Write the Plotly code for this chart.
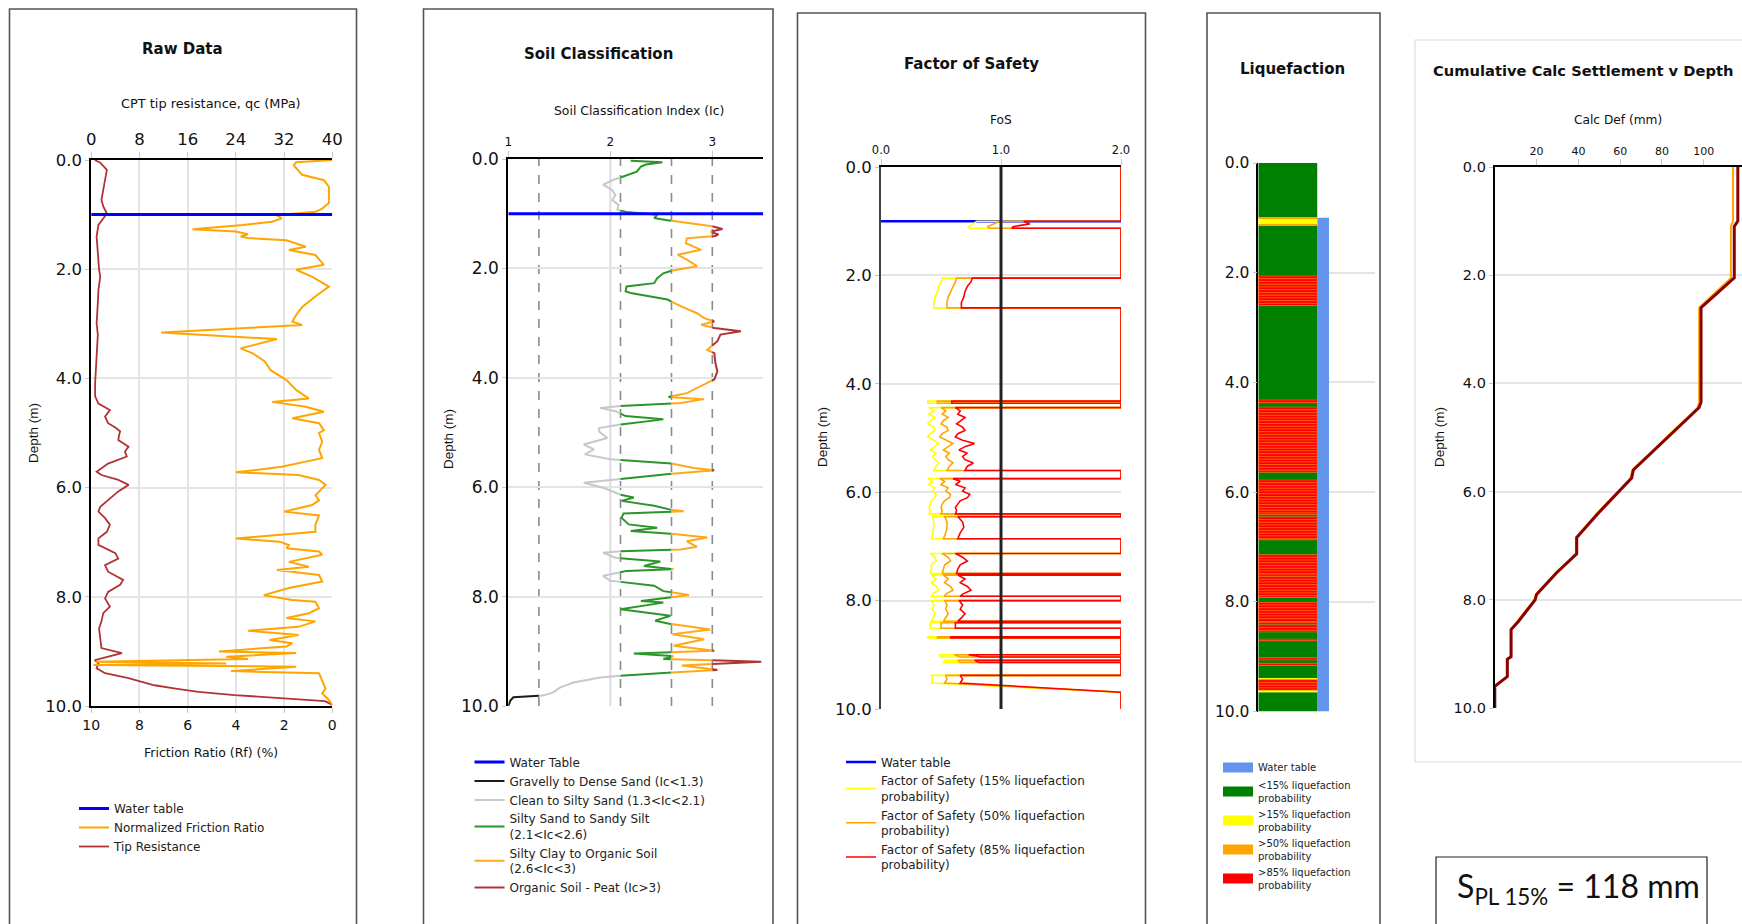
import numpy as np
import plotly.graph_objects as go

W, H = 1742, 924


def px(x):
    return x / W


def py(y):
    return 1 - y / H


WATER_TABLE = 1.0
DEPTH_TICKS = [0, 2, 4, 6, 8, 10]

# ---------------- Raw CPT data ----------------
QC_DEPTH = [0.0, 0.05, 0.18, 0.3, 0.43, 0.6, 0.73, 0.85, 0.98, 1.07, 1.19, 1.4, 1.6, 1.83, 2.0, 2.14,
            2.38, 2.62, 2.8, 2.99, 3.2, 3.48, 3.79, 4.09, 4.33, 4.46, 4.58, 4.7, 4.82, 4.9, 4.97, 5.05,
            5.13, 5.25, 5.34, 5.43, 5.56, 5.71, 5.77, 5.86, 5.95, 6.07, 6.23, 6.35, 6.44, 6.56, 6.68,
            6.81, 6.93, 7.05, 7.2, 7.3, 7.42, 7.54, 7.69, 7.78, 7.91, 8.03, 8.18, 8.3, 8.45, 8.58, 8.76,
            8.94, 9.03, 9.1, 9.16, 9.22, 9.31, 9.4, 9.49, 9.55, 9.62, 9.68, 9.74, 9.8, 9.86, 9.91, 9.98]
QC = [0.6, 1.5, 2.6, 2.4, 2.3, 1.9, 1.7, 2.0, 2.6, 2.0, 1.2, 0.9, 1.0, 1.1, 1.3, 1.5,
      1.2, 1.1, 1.0, 0.9, 1.1, 1.0, 0.8, 0.65, 0.65, 1.2, 3.1, 2.3, 2.8, 4.0, 4.8, 4.6,
      4.5, 6.2, 5.6, 5.9, 2.8, 0.9, 1.7, 4.5, 6.2, 4.5, 2.8, 1.5, 1.2, 2.3, 3.1,
      2.6, 1.2, 1.2, 4.0, 4.5, 2.3, 2.8, 5.3, 4.8, 2.8, 2.3, 3.1, 2.0, 1.7, 1.3, 1.5,
      1.7, 5.1, 2.8, 0.6, 1.2, 0.9, 2.3, 6.2, 8.1, 10.5, 14.0, 17.8, 23.8, 33.0, 38.8, 40.0]

RF_DEPTH = [0.0, 0.04, 0.1, 0.27, 0.37, 0.49, 0.79, 0.89, 0.95, 1.01, 1.07, 1.13, 1.19, 1.27, 1.31,
            1.36, 1.4, 1.43, 1.47, 1.59, 1.65, 1.74, 1.92, 2.01, 2.14, 2.32, 2.5, 2.69, 2.84, 2.96,
            3.02, 3.16, 3.28, 3.45, 3.54, 3.69, 3.85, 4.03, 4.21, 4.37, 4.43, 4.52, 4.61, 4.73, 4.82,
            4.95, 5.0, 5.16, 5.31, 5.46, 5.62, 5.72, 5.77, 5.86, 5.95, 6.14, 6.23, 6.32, 6.44, 6.51,
            6.68, 6.81, 6.93, 6.99, 7.05, 7.11, 7.17, 7.23, 7.36, 7.45, 7.51, 7.6, 7.72, 7.84, 7.97,
            8.06, 8.09, 8.21, 8.3, 8.39, 8.45, 8.55, 8.62, 8.7, 8.79, 8.85, 8.91, 9.0, 9.03, 9.1,
            9.14, 9.19, 9.22, 9.25, 9.28, 9.36, 9.4, 9.55, 9.68, 9.77, 9.89, 9.98]
RF = [0.0, 1.5, 1.6, 1.25, 0.35, 0.14, 0.14, 0.42, 0.7, 2.3, 2.1, 2.5, 3.7, 5.8, 4.0,
      3.5, 3.8, 3.5, 1.9, 1.1, 1.8, 0.7, 0.35, 1.5, 0.83, 0.14, 0.7, 1.25, 1.5, 1.66,
      1.25, 7.1, 2.3, 3.8, 3.3, 2.8, 2.56, 1.9, 1.5, 0.97, 2.5, 1.1, 0.35, 1.66, 0.55,
      0.35, 0.55, 0.42, 0.55, 0.42, 2.1, 4.0, 1.4, 0.55, 0.28, 0.7, 0.55, 0.83, 2.0, 0.55,
      0.7, 0.7, 4.0, 2.2, 1.8, 1.9, 0.55, 0.42, 1.8, 0.97, 2.3, 0.55, 0.42, 1.8, 2.84,
      1.66, 0.7, 0.55, 0.97, 1.9, 0.7, 1.4, 3.5, 1.4, 2.6, 1.66, 1.9, 4.7, 1.5, 4.4,
      3.5, 9.8, 4.4, 9.9, 1.5, 4.2, 0.55, 0.42, 0.28, 0.42, 0.14, 0.0]

# ---------------- Soil classification index ----------------
IC_DEPTH = [0.03, 0.06, 0.1, 0.14, 0.23, 0.32, 0.38, 0.47, 0.57, 0.66, 0.75, 0.84, 0.93, 0.97, 1.02,
            1.08, 1.12, 1.17, 1.22, 1.28, 1.33, 1.38, 1.41, 1.45, 1.54, 1.66, 1.75, 1.84, 1.96, 2.03,
            2.09, 2.18, 2.27, 2.33, 2.42, 2.45, 2.51, 2.57, 2.69, 2.82, 2.91, 2.97, 3.03, 3.09, 3.15,
            3.21, 3.33, 3.49, 3.55, 3.73, 3.88, 4.03, 4.15, 4.28, 4.35, 4.39, 4.46, 4.51, 4.55, 4.61,
            4.7, 4.76, 4.84, 4.92, 4.98, 5.1, 5.22, 5.31, 5.4, 5.49, 5.55, 5.65, 5.69, 5.75, 5.83,
            5.92, 6.01, 6.13, 6.19, 6.25, 6.34, 6.41, 6.44, 6.48, 6.56, 6.68, 6.74, 6.8, 6.85, 6.92,
            6.99, 7.09, 7.14, 7.17, 7.2, 7.29, 7.36, 7.44, 7.5, 7.53, 7.62, 7.71, 7.8, 7.9, 7.97,
            8.02, 8.08, 8.11, 8.23, 8.35, 8.44, 8.5, 8.6, 8.69, 8.78, 8.9, 8.99, 9.04, 9.09, 9.14,
            9.19, 9.26, 9.34, 9.42, 9.48, 9.57, 9.66, 9.75, 9.81, 9.84, 9.9, 10.0]
IC = [2.2, 2.51, 2.35, 2.3, 2.26, 2.13, 2.03, 1.93, 2.02, 2.05, 2.02, 2.08, 2.07, 2.16, 2.46,
      2.43, 2.56, 2.75, 2.98, 3.1, 2.98, 3.06, 3.03, 2.75, 2.74, 2.89, 2.66, 2.75, 2.85, 2.62,
      2.52, 2.46, 2.43, 2.16, 2.15, 2.2, 2.39, 2.56, 2.69, 2.85, 2.92, 3.02, 2.89, 3.02, 3.28,
      3.08, 3.05, 2.95, 3.02, 3.03, 3.05, 3.02, 2.89, 2.75, 2.57, 2.92, 2.69, 2.13, 1.9, 2.05,
      2.15, 2.52, 2.15, 1.89, 1.89, 1.97, 1.74, 1.84, 1.75, 2.0, 2.56, 2.82, 3.02, 2.62, 2.2,
      1.74, 1.93, 2.08, 2.23, 2.11, 2.43, 2.59, 2.72, 2.13, 2.11, 2.18, 2.46, 2.2, 2.59, 2.95,
      2.75, 2.85, 2.69, 2.1, 1.93, 2.05, 2.49, 2.33, 2.62, 2.16, 1.93, 2.0, 2.43, 2.52, 2.77,
      2.56, 2.3, 2.52, 2.1, 2.59, 2.44, 2.59, 2.98, 2.61, 2.92, 2.62, 3.02, 2.23, 2.62, 2.52,
      3.48, 2.7, 3.05, 2.26, 1.9, 1.64, 1.51, 1.44, 1.34, 1.05, 1.02, 1.0]
IC_BOUNDS = [1.3, 2.1, 2.6, 3.0]
SOIL_NAMES = ["Gravelly to Dense Sand (Ic<1.3)", "Clean to Silty Sand (1.3<Ic<2.1)",
              "Silty Sand to Sandy Silt<br>(2.1<Ic<2.6)", "Silty Clay to Organic Soil<br>(2.6<Ic<3)",
              "Organic Soil - Peat (Ic>3)"]
SOIL_COLORS = ["#1a1a1a", "#c8c8c8", "#2a962a", "#ffa91a", "#b03434"]

# ---------------- Factor of safety ----------------
FOS_DEPTH = [0.00, 1.00,
             1.00, 1.05, 1.10, 1.13, 1.13, 2.05,
             2.05, 2.12, 2.20, 2.30, 2.40, 2.50, 2.60, 2.60, 4.32,
             4.32, 4.36, 4.36, 4.44,
             4.44, 4.50, 4.56, 4.62, 4.68, 4.74, 4.80, 4.86, 4.92, 4.98, 5.04, 5.10, 5.16, 5.22, 5.28,
             5.34, 5.40, 5.46, 5.52, 5.60, 5.60, 5.75,
             5.75, 5.80, 5.86, 5.92, 5.98, 6.04, 6.10, 6.16, 6.22, 6.28, 6.34, 6.40, 6.40, 6.45,
             6.45, 6.55, 6.65, 6.75, 6.86, 6.86, 7.13,
             7.13, 7.20, 7.27, 7.34, 7.42, 7.50, 7.50, 7.53,
             7.53, 7.60, 7.67, 7.74, 7.81, 7.88, 7.92, 7.92, 8.00,
             8.00, 8.08, 8.16, 8.24, 8.32, 8.38, 8.38, 8.41,
             8.41, 8.51, 8.51, 8.67, 8.67, 8.69, 8.69, 9.00,
             9.00, 9.04, 9.04, 9.10, 9.10, 9.14, 9.14, 9.38,
             9.38, 9.45, 9.52, 9.69, 10.00]
FOS_15 = [2.0, 2.0,
          0.80, 0.77, 0.73, 0.74, 2.0, 2.0,
          0.51, 0.50, 0.48, 0.47, 0.45, 0.44, 0.44, 2.0, 2.0,
          0.39, 0.39, 2.0, 2.0,
          0.40, 0.44, 0.40, 0.45, 0.41, 0.39, 0.44, 0.45, 0.41, 0.39, 0.44, 0.48, 0.45, 0.41, 0.46,
          0.43, 0.45, 0.48, 0.46, 0.44, 2.0, 2.0,
          0.39, 0.43, 0.40, 0.45, 0.43, 0.46, 0.45, 0.42, 0.41, 0.40, 0.41, 0.40, 2.0, 2.0,
          0.43, 0.44, 0.44, 0.43, 0.42, 2.0, 2.0,
          0.41, 0.45, 0.46, 0.42, 0.42, 0.41, 2.0, 2.0,
          0.42, 0.46, 0.42, 0.46, 0.48, 0.43, 0.42, 2.0, 2.0,
          0.42, 0.44, 0.43, 0.45, 0.43, 0.42, 2.0, 2.0,
          0.41, 0.41, 2.0, 2.0, 0.39, 0.39, 2.0, 2.0,
          0.49, 0.50, 2.0, 2.0, 0.53, 0.52, 2.0, 2.0,
          0.42, 0.43, 0.42, 2.0, 2.0]
FOS_50 = [2.0, 2.0,
          0.99, 0.94, 0.89, 0.90, 2.0, 2.0,
          0.63, 0.62, 0.60, 0.58, 0.56, 0.55, 0.55, 2.0, 2.0,
          0.47, 0.47, 2.0, 2.0,
          0.50, 0.54, 0.51, 0.56, 0.52, 0.50, 0.55, 0.56, 0.51, 0.49, 0.55, 0.60, 0.56, 0.52, 0.57,
          0.54, 0.56, 0.60, 0.57, 0.55, 2.0, 2.0,
          0.49, 0.53, 0.50, 0.56, 0.54, 0.58, 0.57, 0.53, 0.51, 0.50, 0.51, 0.50, 2.0, 2.0,
          0.53, 0.55, 0.55, 0.54, 0.52, 2.0, 2.0,
          0.51, 0.56, 0.58, 0.53, 0.52, 0.51, 2.0, 2.0,
          0.52, 0.56, 0.53, 0.58, 0.60, 0.54, 0.53, 2.0, 2.0,
          0.53, 0.55, 0.54, 0.56, 0.54, 0.52, 2.0, 2.0,
          0.50, 0.50, 2.0, 2.0, 0.47, 0.47, 2.0, 2.0,
          0.61, 0.66, 2.0, 2.0, 0.64, 0.66, 2.0, 2.0,
          0.54, 0.55, 0.53, 2.0, 2.0]
FOS_85 = [2.0, 2.0,
          1.19, 1.24, 1.10, 1.09, 2.0, 2.0,
          0.76, 0.75, 0.72, 0.70, 0.69, 0.67, 0.67, 2.0, 2.0,
          0.59, 0.59, 2.0, 2.0,
          0.62, 0.66, 0.64, 0.70, 0.66, 0.63, 0.68, 0.70, 0.64, 0.62, 0.68, 0.78, 0.70, 0.65, 0.72,
          0.68, 0.70, 0.77, 0.72, 0.70, 2.0, 2.0,
          0.60, 0.66, 0.62, 0.70, 0.68, 0.74, 0.72, 0.66, 0.64, 0.62, 0.63, 0.62, 2.0, 2.0,
          0.64, 0.68, 0.69, 0.66, 0.64, 2.0, 2.0,
          0.62, 0.68, 0.72, 0.66, 0.64, 0.63, 2.0, 2.0,
          0.64, 0.70, 0.66, 0.72, 0.75, 0.68, 0.66, 2.0, 2.0,
          0.65, 0.68, 0.66, 0.70, 0.67, 0.64, 2.0, 2.0,
          0.62, 0.62, 2.0, 2.0, 0.58, 0.58, 2.0, 2.0,
          0.73, 0.84, 2.0, 2.0, 0.78, 0.82, 2.0, 2.0,
          0.66, 0.68, 0.66, 2.0, 2.0]

# ---------------- Liquefaction column (top, bottom, class) ----------------
LIQ_TOP = [0.00, 0.99, 1.02, 1.12, 1.15, 2.06, 2.60, 4.32, 4.37, 4.45, 5.64, 5.78, 6.41, 6.45, 6.87,
           7.14, 7.51, 7.54, 7.92, 8.01, 8.38, 8.42, 8.55, 8.68, 8.71, 9.02, 9.06, 9.12, 9.16, 9.40,
           9.42, 9.61, 9.65]
LIQ_BOTTOM = [0.99, 1.02, 1.12, 1.15, 2.06, 2.60, 4.32, 4.37, 4.45, 5.64, 5.78, 6.41, 6.45, 6.87, 7.14,
              7.51, 7.54, 7.92, 8.01, 8.38, 8.42, 8.55, 8.68, 8.71, 9.02, 9.06, 9.12, 9.16, 9.40, 9.42,
              9.61, 9.65, 10.00]
LIQ_CLASS = [0, 2, 1, 2, 0, 3, 0, 3, 0, 3, 0, 3, 0, 3, 0,
             3, 0, 3, 0, 3, 0, 3, 0, 3, 0, 3, 0, 3, 0, 1,
             3, 1, 0]
LIQ_NAMES = ["<15% liquefaction<br>probability", ">15% liquefaction<br>probability",
             ">50% liquefaction<br>probability", ">85% liquefaction<br>probability"]
LIQ_COLORS = ["#008000", "#ffff00", "#ffa500", "#ff0000"]

# ---------------- Cumulative settlement ----------------
SETTLE_DEPTH = [0.0, 1.0, 1.1, 2.05, 2.6, 4.35, 4.45, 5.6, 5.75, 6.4, 6.85, 7.15, 7.5, 7.9, 8.0,
                8.4, 8.55, 9.05, 9.1, 9.42, 9.6, 10.0]
SETTLE_A = [114.0, 114.0, 113.0, 113.0, 97.8, 97.8, 97.0, 65.8, 65.0, 49.0, 38.8, 38.8, 29.2, 19.6,
            19.0, 11.0, 7.6, 7.6, 5.8, 5.8, 0.0, 0.0]
SETTLE_B = [116.3, 116.3, 114.6, 114.6, 98.7, 98.7, 97.7, 66.3, 65.5, 49.5, 39.2, 39.2, 29.6, 20.0,
            19.3, 11.3, 7.8, 7.8, 6.0, 6.0, 0.0, 0.0]
S_PL15 = 118


def split_by_class(depth, values, bounds):
    """Cut a profile at the class boundaries, returning one gapped path per class."""
    n = len(bounds) + 1
    paths = [([], []) for _ in range(n)]
    last = [None] * n
    for i in range(len(depth) - 1):
        d0, d1, v0, v1 = depth[i], depth[i + 1], values[i], values[i + 1]
        ts = [0.0, 1.0]
        for b in bounds:
            if (v0 - b) * (v1 - b) < 0:
                ts.append((b - v0) / (v1 - v0))
        ts.sort()
        for a, b in zip(ts[:-1], ts[1:]):
            pa = (d0 + a * (d1 - d0), v0 + a * (v1 - v0))
            pb = (d0 + b * (d1 - d0), v0 + b * (v1 - v0))
            c = int(np.searchsorted(bounds, (pa[1] + pb[1]) / 2))
            xs, ys = paths[c]
            if last[c] != pa:
                if xs:
                    xs.append(None)
                    ys.append(None)
                xs.append(pa[1])
                ys.append(pa[0])
            xs.append(pb[1])
            ys.append(pb[0])
            last[c] = pb
    return paths


FONT = "DejaVu Sans, Verdana, sans-serif"
GRID = "#e4e4e4"
TICKC = "#c8c8c8"

fig = go.Figure()

# Panel 1: raw data
fig.add_trace(go.Scatter(x=QC, y=QC_DEPTH, xaxis="x", yaxis="y", mode="lines",
                         line=dict(color="#b03434", width=1.8), name="Tip Resistance",
                         legend="legend", legendrank=3))
fig.add_trace(go.Scatter(x=RF, y=RF_DEPTH, xaxis="x2", yaxis="y", mode="lines",
                         line=dict(color="#ffa500", width=2), name="Normalized Friction Ratio",
                         legend="legend", legendrank=2))
fig.add_trace(go.Scatter(x=[10, 0], y=[WATER_TABLE, WATER_TABLE], xaxis="x2", yaxis="y", mode="lines",
                         line=dict(color="#0000ff", width=3), name="Water table",
                         legend="legend", legendrank=1))

# Panel 2: soil classification
for k, (xs, ys) in enumerate(split_by_class(IC_DEPTH, IC, IC_BOUNDS)):
    fig.add_trace(go.Scatter(x=xs, y=ys, xaxis="x3", yaxis="y2", mode="lines",
                             line=dict(color=SOIL_COLORS[k], width=2), name=SOIL_NAMES[k],
                             legend="legend2", legendrank=10 + k, connectgaps=False))
fig.add_trace(go.Scatter(x=[1, 3.5], y=[WATER_TABLE, WATER_TABLE], xaxis="x3", yaxis="y2", mode="lines",
                         line=dict(color="#0000ff", width=3), name="Water Table",
                         legend="legend2", legendrank=1))

# Panel 3: factor of safety
fig.add_trace(go.Scatter(x=[0, 2], y=[WATER_TABLE, WATER_TABLE], xaxis="x4", yaxis="y3", mode="lines",
                         line=dict(color="#0000ff", width=2.5), name="Water table", legend="legend3"))
for vals, col, lbl in [(FOS_15, "#ffff00", "15%"), (FOS_50, "#ffa500", "50%"), (FOS_85, "#ff0000", "85%")]:
    fig.add_trace(go.Scatter(x=vals, y=FOS_DEPTH, xaxis="x4", yaxis="y3", mode="lines",
                             line=dict(color=col, width=1.6),
                             name=f"Factor of Safety ({lbl} liquefaction<br>probability)",
                             legend="legend3"))

# Panel 4: liquefaction column (bars), with wide swatches for the key
fig.add_trace(go.Bar(x=[1.1], y=[10 - WATER_TABLE], base=[WATER_TABLE], width=0.2, xaxis="x5", yaxis="y4",
                     marker=dict(color="#6495ed", line=dict(width=0)), name="Water table",
                     legendgroup="wt", showlegend=False))
fig.add_trace(go.Scatter(x=[None], y=[None], xaxis="x5", yaxis="y4", mode="lines",
                         line=dict(color="#6495ed", width=10), name="Water table",
                         legendgroup="wt", legend="legend4"))
for k in range(4):
    tops, hts = [], []
    for t, b, c in zip(LIQ_TOP, LIQ_BOTTOM, LIQ_CLASS):
        if c != k:
            continue
        if k == 3:
            edges = np.append(np.arange(t, b, 0.05), b)
            for e0, e1 in zip(edges[:-1], edges[1:]):
                if e1 - e0 > 1e-6:
                    tops.append(e0)
                    hts.append(e1 - e0)
        else:
            tops.append(t)
            hts.append(b - t)
    line = dict(color="#ff6a00", width=0.6) if k == 3 else dict(width=0)
    fig.add_trace(go.Bar(x=[0.5] * len(tops), y=hts, base=tops, width=1.0, xaxis="x5", yaxis="y4",
                         marker=dict(color=LIQ_COLORS[k], line=line), name=LIQ_NAMES[k],
                         legendgroup=f"liq{k}", showlegend=False))
    fig.add_trace(go.Scatter(x=[None], y=[None], xaxis="x5", yaxis="y4", mode="lines",
                             line=dict(color=LIQ_COLORS[k], width=10), name=LIQ_NAMES[k],
                             legendgroup=f"liq{k}", legend="legend4"))

# Panel 5: cumulative settlement
fig.add_trace(go.Scatter(x=SETTLE_A, y=SETTLE_DEPTH, xaxis="x6", yaxis="y5", mode="lines",
                         line=dict(color="#ffa500", width=2), showlegend=False))
fig.add_trace(go.Scatter(x=SETTLE_B, y=SETTLE_DEPTH, xaxis="x6", yaxis="y5", mode="lines",
                         line=dict(color="#8b0000", width=3), showlegend=False))


def depth_axis(top, bottom, anchor, size=16, linecolor="#000"):
    return dict(domain=[py(bottom), py(top)], anchor=anchor, range=[10, 0], tickvals=DEPTH_TICKS,
                tickformat=".1f", showgrid=True, gridcolor=GRID, gridwidth=2, zeroline=False,
                showline=True, linecolor=linecolor, linewidth=2, ticks="outside", ticklen=4,
                tickcolor=TICKC, tickfont=dict(size=size, color="#111"), automargin=False)


def top_axis(left, right, anchor, rng, vals, size, fmt=None, grid=True):
    d = dict(domain=[px(left), px(right)], anchor=anchor, side="top", range=rng, tickvals=vals,
             showgrid=grid, gridcolor=GRID, gridwidth=2, zeroline=False, showline=True,
             linecolor="#000", linewidth=2, ticks="outside", ticklen=6, tickcolor=TICKC,
             tickfont=dict(size=size, color="#111"), automargin=False)
    if fmt:
        d["tickformat"] = fmt
    return d


layout = dict(
    width=W, height=H, margin=dict(l=0, r=0, t=0, b=0, pad=0, autoexpand=False),
    paper_bgcolor="white", plot_bgcolor="white", barmode="overlay",
    font=dict(family=FONT, color="#111"),
    xaxis=top_axis(91.2, 332.3, "y", [0, 40], [0, 8, 16, 24, 32, 40], 16.5),
    xaxis2=dict(overlaying="x", anchor="y", side="bottom", range=[10, 0], tickvals=[10, 8, 6, 4, 2, 0],
                showgrid=False, zeroline=False, showline=True, linecolor="#000", linewidth=2,
                ticks="outside", ticklen=5, tickcolor=TICKC, tickfont=dict(size=14, color="#111"),
                automargin=False),
    yaxis=depth_axis(160, 706, "x", 16.5),
    xaxis3=top_axis(508.3, 763.3, "y2", [1, 3.5], [1, 2, 3], 12, grid=False),
    yaxis2=depth_axis(159, 706, "x3", 17),
    xaxis4=top_axis(881, 1121, "y3", [0, 2], [0, 1, 2], 11.5, fmt=".1f"),
    yaxis3=depth_axis(167, 709, "x4", 16.5, linecolor="#444"),
    xaxis5=dict(domain=[px(1258.3), px(1375)], anchor="y4", range=[0, 1.98], visible=False),
    yaxis4=depth_axis(163, 711.5, "x5", 15.5),
    xaxis6=top_axis(1494.8, W, "y5", [0, 118.3], [20, 40, 60, 80, 100], 11, grid=False),
    yaxis5=depth_axis(167, 708, "x6", 14.5),
)
layout["yaxis4"]["linewidth"] = 1.5

leg = dict(bgcolor="rgba(0,0,0,0)", borderwidth=0, xanchor="left", yanchor="top", itemwidth=30,
           tracegroupgap=0, traceorder="normal", font=dict(family=FONT, size=12, color="#222"))
layout["legend"] = dict(leg, x=px(74), y=py(794))
layout["legend2"] = dict(leg, x=px(469.5), y=py(747.5))
layout["legend3"] = dict(leg, x=px(841), y=py(747.5))
layout["legend4"] = dict(leg, x=px(1218), y=py(753), font=dict(family=FONT, size=10, color="#222"))

ann = []


def text(x, y, s, size=12, bold=False, angle=0, anchor="center", family=FONT):
    ann.append(dict(x=px(x), y=py(y), xref="paper", yref="paper", showarrow=False,
                    text=f"<b>{s}</b>" if bold else s, textangle=angle, xanchor=anchor, yanchor="middle",
                    font=dict(size=size, color="#111", family=family)))


text(182, 49, "Raw Data", 15, bold=True)
text(598, 54, "Soil Classification", 15, bold=True)
text(971, 64, "Factor of Safety", 15, bold=True)
text(1292, 69, "Liquefaction", 15, bold=True)
text(1431, 70, "Cumulative Calc Settlement v Depth", 14.7, bold=True, anchor="left")
text(211, 104, "CPT tip resistance, qc (MPa)", 12.9)
text(211, 752, "Friction Ratio (Rf) (%)", 12.5)
text(639, 111, "Soil Classification Index (Ic)", 12.4)
text(1001, 120, "FoS", 12.2)
text(1618, 120, "Calc Def (mm)", 12.2)
for xx, yy in [(33, 433), (449, 439), (822, 437), (1439, 437)]:
    text(xx, yy, "Depth (m)", 13.5, angle=-90, family="Liberation Sans, Arial, sans-serif")
text(1455, 888, f"S<sub>PL 15%</sub> = {S_PL15} mm", 32, anchor="left", family="Lato, Liberation Sans, sans-serif")
layout["annotations"] = ann

shapes = []


def box(x0, x1, y0, y1, color, width):
    shapes.append(dict(type="rect", xref="paper", yref="paper", x0=px(x0), x1=px(x1), y0=py(y1), y1=py(y0),
                       line=dict(color=color, width=width), fillcolor="rgba(0,0,0,0)", layer="below"))


box(9.5, 356.5, 9, 960, "#555", 1.6)
box(423.5, 773, 9, 960, "#555", 1.6)
box(797.5, 1145.5, 13, 960, "#555", 1.6)
box(1207, 1380, 13, 960, "#555", 1.6)
box(1415, 1800, 40, 762, "#dcdcdc", 1.2)
box(1436, 1707, 857, 960, "#222", 1.2)

# Ic = 2 reference line and dashed class boundaries
shapes.append(dict(type="line", xref="x3", yref="y2 domain", x0=2, x1=2, y0=0, y1=1,
                   line=dict(color="#dcdcdc", width=2), layer="below"))
for b in IC_BOUNDS:
    shapes.append(dict(type="line", xref="x3", yref="y2 domain", x0=b, x1=b, y0=0, y1=1,
                       line=dict(color="#8a8a8a", width=1.6, dash="dash"), layer="below"))
shapes.append(dict(type="line", xref="x4", yref="y3 domain", x0=1, x1=1, y0=0, y1=1,
                   line=dict(color="#222", width=3), layer="above"))
layout["shapes"] = shapes

fig.update_layout(**layout)
fig.write_html("out.html")
